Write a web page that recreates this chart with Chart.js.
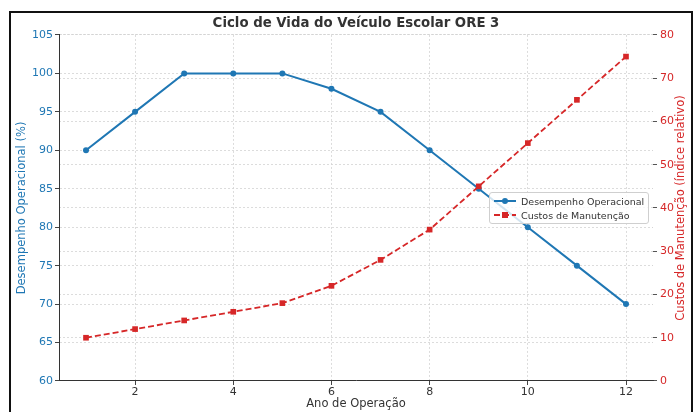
<!DOCTYPE html>
<html>
<head>
<meta charset="utf-8">
<script src="https://cdn.jsdelivr.net/npm/chart.js@4.4.0/dist/chart.umd.min.js"></script>
<style>
  html, body { margin: 0; padding: 0; background: #fff; }
  #wrap { position: relative; width: 693px; height: 412px; overflow: hidden; }
  #chart { position: absolute; left: 0; top: 0; }
  #frame { position: absolute; left: 9px; top: 11px; width: 684px; height: 440px;
           border: 2px solid #111; box-sizing: border-box; pointer-events: none; }
  #legend { position: absolute; left: 489px; top: 192px; width: 160px; height: 32px;
            box-sizing: border-box; border: 1px solid #cfcfcf; border-radius: 3px;
            background: rgba(255,255,255,0.8); padding-top: 1px;
            font-family: "DejaVu Sans", sans-serif; font-size: 9.5px; color: #333; }
  .row { display: flex; align-items: center; height: 14px; }
  .mk { position: relative; width: 22px; height: 14px; margin-left: 4px; margin-right: 5px; }
  .mk .ln { position: absolute; left: 0; right: 0; top: 6px; height: 2px; }
  .mk .pt { position: absolute; left: 8px; top: 4px; width: 6px; height: 6px; }
  #y1title { position: absolute; left: 680px; top: 208px; white-space: nowrap;
             transform: translate(-50%, -50%) rotate(-90deg);
             font-family: "DejaVu Sans", sans-serif; font-size: 11.5px; color: #d62728; }
</style>
</head>
<body>
<div id="wrap">
  <canvas id="chart" width="693" height="412"></canvas>
  <div id="legend"></div>
  <div id="y1title"></div>
  <div id="frame"></div>
</div>
<script>
// Year of operation
const anos = [1, 2, 3, 4, 5, 6, 7, 8, 9, 10, 11, 12];
// Operational performance (%)
const desempenho = [90, 95, 100, 100, 100, 98, 95, 90, 85, 80, 75, 70];
// Maintenance cost (relative index)
const custos = [10, 12, 14, 16, 18, 22, 28, 35, 45, 55, 65, 75];
// Tick values on the year axis
const xTicks = [2, 4, 6, 8, 10, 12];
// Axis titles
const tituloX = 'Ano de Operação';
const tituloY = 'Desempenho Operacional (%)';
const tituloY1 = 'Custos de Manutenção (índice relativo)';

const azul = '#1f77b4';
const vermelho = '#d62728';
const fonte = '"DejaVu Sans", sans-serif';
const grade = '#d4d4d4';

const pts = (vals) => anos.map((a, i) => ({ x: a, y: vals[i] }));

const chart = new Chart(document.getElementById('chart'), {
  type: 'line',
  data: {
    datasets: [
      {
        label: 'Desempenho Operacional',
        data: pts(desempenho),
        yAxisID: 'y',
        borderColor: azul,
        backgroundColor: azul,
        borderWidth: 2,
        pointStyle: 'circle',
        pointRadius: 3,
        pointBorderWidth: 0,
        tension: 0,
        order: 2
      },
      {
        label: 'Custos de Manutenção',
        data: pts(custos),
        yAxisID: 'y1',
        borderColor: vermelho,
        backgroundColor: vermelho,
        borderWidth: 1.8,
        borderDash: [6, 3],
        pointStyle: 'rect',
        pointRadius: 4,
        pointBorderWidth: 0,
        tension: 0,
        order: 1
      }
    ]
  },
  options: {
    responsive: false,
    animation: false,
    layout: { padding: 0 },
    plugins: {
      legend: { display: false },
      tooltip: { enabled: false },
      title: {
        display: true,
        text: 'Ciclo de Vida do Veículo Escolar ORE 3',
        fullSize: false,
        color: '#333',
        font: { family: fonte, size: 13.3, weight: 'bold' },
        padding: { top: 16, bottom: 3 }
      }
    },
    scales: {
      x: {
        type: 'linear',
        min: 0.45,
        max: 12.55,
        afterBuildTicks: (s) => { s.ticks = xTicks.map(v => ({ value: v })); },
        afterFit: (s) => { s.height = 31; },
        grid: { color: grade, lineWidth: 0.8, tickLength: 4, tickColor: '#444', tickWidth: 1 },
        border: { display: true, color: '#333', width: 1, dash: [2, 2] },
        ticks: { color: '#333', font: { family: fonte, size: 11 }, padding: 1, maxRotation: 0 },
        title: { display: true, text: tituloX, color: '#333',
                 font: { family: fonte, size: 11.5 }, padding: { top: 0, bottom: 1.1 } }
      },
      y: {
        position: 'left',
        min: 60,
        max: 105,
        afterFit: (s) => { s.width = 59; },
        grid: { color: grade, lineWidth: 0.8, tickLength: 4, tickColor: '#444', tickWidth: 1 },
        border: { display: true, color: '#333', width: 1, dash: [2, 2] },
        ticks: { stepSize: 5, color: azul, font: { family: fonte, size: 11 }, padding: 2 },
        title: { display: true, text: tituloY, color: azul,
                 font: { family: fonte, size: 11.5 }, padding: { top: 15.1, bottom: 0 } }
      },
      y1: {
        position: 'right',
        min: 0,
        max: 80,
        afterFit: (s) => { s.width = 40; },
        grid: { color: grade, lineWidth: 0.8, tickLength: 4, tickColor: '#555', tickWidth: 1, drawOnChartArea: true },
        border: { display: false, dash: [2, 2] },
        ticks: { stepSize: 10, color: vermelho, font: { family: fonte, size: 11 }, padding: 3 },
        title: { display: false }
      }
    }
  }
});

// Right-axis title reads bottom-to-top, like the left one
document.getElementById('y1title').textContent = tituloY1;

// Legend built from the chart's own datasets
const legend = document.getElementById('legend');
chart.data.datasets.forEach((ds) => {
  const row = document.createElement('div');
  row.className = 'row';
  const mk = document.createElement('div');
  mk.className = 'mk';
  const ln = document.createElement('div');
  ln.className = 'ln';
  if (ds.borderDash) {
    ln.style.background = `repeating-linear-gradient(to right, ${ds.borderColor} 0 6px, transparent 6px 9px)`;
  } else {
    ln.style.background = ds.borderColor;
  }
  const pt = document.createElement('div');
  pt.className = 'pt';
  pt.style.background = ds.borderColor;
  if (ds.pointStyle === 'circle') pt.style.borderRadius = '50%';
  mk.appendChild(ln);
  mk.appendChild(pt);
  const tx = document.createElement('span');
  tx.textContent = ds.label;
  row.appendChild(mk);
  row.appendChild(tx);
  legend.appendChild(row);
});
</script>
</body>
</html>
